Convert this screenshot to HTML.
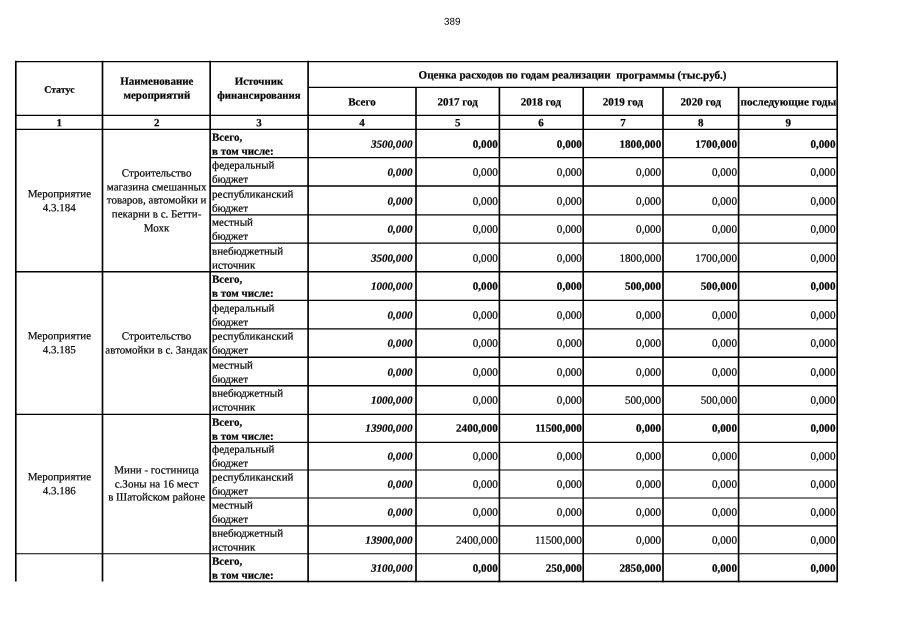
<!DOCTYPE html>
<html><head><meta charset="utf-8"><title>389</title>
<style>
html,body{margin:0;padding:0;background:#fff;}
body{width:905px;height:640px;position:relative;overflow:hidden;font-family:"Liberation Serif",serif;font-size:11px;line-height:13.7px;color:#000;-webkit-text-stroke:0.2px #000;}
svg{position:absolute;left:0;top:0;}
svg line{stroke:#000;}
.c{position:absolute;display:flex;align-items:center;box-sizing:border-box;white-space:nowrap;}
.c span{display:block;width:100%;}
.r.q{padding-right:1.6px;font-size:11.15px;}
.r.i{font-size:11.1px;}
.m{text-align:center;}
.l{text-align:left;padding-left:2.2px;}
.r{text-align:right;padding-right:3.4px;}
.b{font-weight:bold;}
.i{font-style:italic;}
.layer{position:absolute;left:0;top:0;width:905px;height:640px;will-change:transform;}
.pg{position:absolute;left:443.9px;top:15px;font-family:"Liberation Sans",sans-serif;font-size:9.9px;line-height:12px;transform:translateY(0.8px) rotate(0.03deg);-webkit-text-stroke:0;}
</style></head><body>
<div class="layer"><div class="pg">389</div>
<svg width="905" height="640" viewBox="0 0 905 640">
<line x1="15.80" y1="60.78" x2="15.80" y2="581.50" stroke-width="1.65"/>
<line x1="102.50" y1="60.78" x2="102.50" y2="581.50" stroke-width="1.65"/>
<line x1="210.15" y1="60.78" x2="210.15" y2="582.35" stroke-width="1.65"/>
<line x1="308.10" y1="60.78" x2="308.10" y2="582.35" stroke-width="1.65"/>
<line x1="416.00" y1="87.30" x2="416.00" y2="582.17" stroke-width="1.65"/>
<line x1="499.40" y1="87.30" x2="499.40" y2="582.17" stroke-width="1.65"/>
<line x1="583.20" y1="87.30" x2="583.20" y2="582.17" stroke-width="1.65"/>
<line x1="663.00" y1="87.30" x2="663.00" y2="582.17" stroke-width="1.65"/>
<line x1="738.60" y1="87.30" x2="738.60" y2="582.17" stroke-width="1.65"/>
<line x1="837.20" y1="60.78" x2="837.20" y2="582.35" stroke-width="1.65"/>
<line x1="15.00" y1="61.55" x2="838.00" y2="61.55" stroke-width="1.25"/>
<line x1="308.10" y1="87.30" x2="837.20" y2="87.30" stroke-width="1.35"/>
<line x1="15.80" y1="115.33" x2="837.20" y2="115.33" stroke-width="1.35"/>
<line x1="15.80" y1="129.33" x2="837.20" y2="129.33" stroke-width="1.35"/>
<line x1="210.15" y1="157.60" x2="837.20" y2="157.60" stroke-width="1.2"/>
<line x1="210.15" y1="186.00" x2="837.20" y2="186.00" stroke-width="1.4"/>
<line x1="210.15" y1="214.95" x2="837.20" y2="214.95" stroke-width="1.3"/>
<line x1="210.15" y1="243.10" x2="837.20" y2="243.10" stroke-width="1.2"/>
<line x1="15.80" y1="271.70" x2="837.20" y2="271.70" stroke-width="1.35"/>
<line x1="210.15" y1="300.40" x2="837.20" y2="300.40" stroke-width="1.15"/>
<line x1="210.15" y1="328.90" x2="837.20" y2="328.90" stroke-width="1.25"/>
<line x1="210.15" y1="357.25" x2="837.20" y2="357.25" stroke-width="1.3"/>
<line x1="210.15" y1="385.75" x2="837.20" y2="385.75" stroke-width="1.45"/>
<line x1="15.80" y1="414.30" x2="837.20" y2="414.30" stroke-width="1.15"/>
<line x1="210.15" y1="442.30" x2="837.20" y2="442.30" stroke-width="1.3"/>
<line x1="210.15" y1="470.00" x2="837.20" y2="470.00" stroke-width="1.1"/>
<line x1="210.15" y1="498.00" x2="837.20" y2="498.00" stroke-width="1.1"/>
<line x1="210.15" y1="525.90" x2="837.20" y2="525.90" stroke-width="1.1"/>
<line x1="15.80" y1="553.80" x2="837.20" y2="553.80" stroke-width="1.05"/>
<line x1="209.47" y1="581.50" x2="838.00" y2="581.50" stroke-width="1.7"/>
</svg>
<div class="c b m" style="left:15.80px;top:61.45px;width:86.70px;height:53.88px"><span style="transform:translate(0.00px,0.80px) rotate(0.03deg);font-size:9.9px;">Статус</span></div>
<div class="c b m" style="left:102.50px;top:61.45px;width:107.65px;height:53.88px"><span style="transform:translate(0.00px,-0.20px) rotate(0.03deg);">Наименование<br>мероприятий</span></div>
<div class="c b m" style="left:210.15px;top:61.45px;width:97.95px;height:53.88px"><span style="transform:translate(0.00px,-0.20px) rotate(0.03deg);font-size:10.85px;">Источник<br>финансирования</span></div>
<div class="c b m" style="left:308.10px;top:61.45px;width:529.10px;height:25.85px"><span style="transform:translate(0.00px,0.60px) rotate(0.03deg);font-size:11.1px;">Оценка расходов по годам реализации&nbsp; программы (тыс.руб.)</span></div>
<div class="c b m" style="left:308.10px;top:87.30px;width:107.90px;height:28.03px"><span style="transform:translate(0.00px,1.45px) rotate(0.03deg);font-size:11.05px;">Всего</span></div>
<div class="c b m" style="left:416.00px;top:87.30px;width:83.40px;height:28.03px"><span style="transform:translate(0.00px,1.45px) rotate(0.03deg);font-size:11.05px;">2017 год</span></div>
<div class="c b m" style="left:499.40px;top:87.30px;width:83.80px;height:28.03px"><span style="transform:translate(0.00px,1.45px) rotate(0.03deg);font-size:11.05px;">2018 год</span></div>
<div class="c b m" style="left:583.20px;top:87.30px;width:79.80px;height:28.03px"><span style="transform:translate(0.00px,1.45px) rotate(0.03deg);font-size:11.05px;">2019 год</span></div>
<div class="c b m" style="left:663.00px;top:87.30px;width:75.60px;height:28.03px"><span style="transform:translate(0.00px,1.45px) rotate(0.03deg);font-size:11.05px;">2020 год</span></div>
<div class="c b m" style="left:738.60px;top:87.30px;width:98.60px;height:28.03px"><span style="transform:translate(0.00px,1.45px) rotate(0.03deg);font-size:11.15px;">последующие годы</span></div>
<div class="c b m n" style="left:15.80px;top:115.33px;width:86.70px;height:14.00px"><span style="transform:translate(0.00px,1.35px) rotate(0.03deg);">1</span></div>
<div class="c b m n" style="left:102.50px;top:115.33px;width:107.65px;height:14.00px"><span style="transform:translate(0.00px,1.35px) rotate(0.03deg);">2</span></div>
<div class="c b m n" style="left:210.15px;top:115.33px;width:97.95px;height:14.00px"><span style="transform:translate(0.00px,1.35px) rotate(0.03deg);">3</span></div>
<div class="c b m n" style="left:308.10px;top:115.33px;width:107.90px;height:14.00px"><span style="transform:translate(0.00px,1.35px) rotate(0.03deg);">4</span></div>
<div class="c b m n" style="left:416.00px;top:115.33px;width:83.40px;height:14.00px"><span style="transform:translate(0.00px,1.35px) rotate(0.03deg);">5</span></div>
<div class="c b m n" style="left:499.40px;top:115.33px;width:83.80px;height:14.00px"><span style="transform:translate(0.00px,1.35px) rotate(0.03deg);">6</span></div>
<div class="c b m n" style="left:583.20px;top:115.33px;width:79.80px;height:14.00px"><span style="transform:translate(0.00px,1.35px) rotate(0.03deg);">7</span></div>
<div class="c b m n" style="left:663.00px;top:115.33px;width:75.60px;height:14.00px"><span style="transform:translate(0.00px,1.35px) rotate(0.03deg);">8</span></div>
<div class="c b m n" style="left:738.60px;top:115.33px;width:98.60px;height:14.00px"><span style="transform:translate(0.00px,1.35px) rotate(0.03deg);">9</span></div>
<div class="c m" style="left:15.80px;top:129.33px;width:86.70px;height:142.37px"><span style="transform:translate(0.00px,0.30px) rotate(0.03deg);">Мероприятие<br>4.3.184</span></div>
<div class="c m" style="left:102.50px;top:129.33px;width:107.65px;height:142.37px"><span style="transform:translate(-0.20px,0.50px) rotate(0.03deg);">Строительство<br>магазина смешанных<br>товаров, автомойки и<br>пекарни в с. Бетти-<br>Мохк</span></div>
<div class="c l b" style="left:210.15px;top:129.33px;width:97.95px;height:28.27px"><span style="transform:translate(0.00px,0.80px) rotate(0.03deg);">Всего,<br>в том числе:</span></div>
<div class="c r b i" style="left:308.10px;top:129.33px;width:107.90px;height:28.27px"><span style="transform:translate(0.00px,0.80px) rotate(0.03deg);">3500,000</span></div>
<div class="c r b q" style="left:416.00px;top:129.33px;width:83.40px;height:28.27px"><span style="transform:translate(0.00px,0.80px) rotate(0.03deg);">0,000</span></div>
<div class="c r b q" style="left:499.40px;top:129.33px;width:83.80px;height:28.27px"><span style="transform:translate(0.70px,0.80px) rotate(0.03deg);">0,000</span></div>
<div class="c r b q" style="left:583.20px;top:129.33px;width:79.80px;height:28.27px"><span style="transform:translate(0.00px,0.80px) rotate(0.03deg);">1800,000</span></div>
<div class="c r b q" style="left:663.00px;top:129.33px;width:75.60px;height:28.27px"><span style="transform:translate(0.00px,0.80px) rotate(0.03deg);">1700,000</span></div>
<div class="c r b q" style="left:738.60px;top:129.33px;width:98.60px;height:28.27px"><span style="transform:translate(-0.50px,0.80px) rotate(0.03deg);">0,000</span></div>
<div class="c l" style="left:210.15px;top:157.60px;width:97.95px;height:28.40px"><span style="transform:translate(0.00px,0.80px) rotate(0.03deg);">федеральный<br>бюджет</span></div>
<div class="c r b i" style="left:308.10px;top:157.60px;width:107.90px;height:28.40px"><span style="transform:translate(0.00px,0.80px) rotate(0.03deg);">0,000</span></div>
<div class="c r q" style="left:416.00px;top:157.60px;width:83.40px;height:28.40px"><span style="transform:translate(0.00px,0.80px) rotate(0.03deg);">0,000</span></div>
<div class="c r q" style="left:499.40px;top:157.60px;width:83.80px;height:28.40px"><span style="transform:translate(0.70px,0.80px) rotate(0.03deg);">0,000</span></div>
<div class="c r q" style="left:583.20px;top:157.60px;width:79.80px;height:28.40px"><span style="transform:translate(0.00px,0.80px) rotate(0.03deg);">0,000</span></div>
<div class="c r q" style="left:663.00px;top:157.60px;width:75.60px;height:28.40px"><span style="transform:translate(0.00px,0.80px) rotate(0.03deg);">0,000</span></div>
<div class="c r q" style="left:738.60px;top:157.60px;width:98.60px;height:28.40px"><span style="transform:translate(-0.50px,0.80px) rotate(0.03deg);">0,000</span></div>
<div class="c l" style="left:210.15px;top:186.00px;width:97.95px;height:28.95px"><span style="transform:translate(0.00px,0.80px) rotate(0.03deg);">республиканский<br>бюджет</span></div>
<div class="c r b i" style="left:308.10px;top:186.00px;width:107.90px;height:28.95px"><span style="transform:translate(0.00px,0.80px) rotate(0.03deg);">0,000</span></div>
<div class="c r q" style="left:416.00px;top:186.00px;width:83.40px;height:28.95px"><span style="transform:translate(0.00px,0.80px) rotate(0.03deg);">0,000</span></div>
<div class="c r q" style="left:499.40px;top:186.00px;width:83.80px;height:28.95px"><span style="transform:translate(0.70px,0.80px) rotate(0.03deg);">0,000</span></div>
<div class="c r q" style="left:583.20px;top:186.00px;width:79.80px;height:28.95px"><span style="transform:translate(0.00px,0.80px) rotate(0.03deg);">0,000</span></div>
<div class="c r q" style="left:663.00px;top:186.00px;width:75.60px;height:28.95px"><span style="transform:translate(0.00px,0.80px) rotate(0.03deg);">0,000</span></div>
<div class="c r q" style="left:738.60px;top:186.00px;width:98.60px;height:28.95px"><span style="transform:translate(-0.50px,0.80px) rotate(0.03deg);">0,000</span></div>
<div class="c l" style="left:210.15px;top:214.95px;width:97.95px;height:28.15px"><span style="transform:translate(0.00px,0.80px) rotate(0.03deg);">местный<br>бюджет</span></div>
<div class="c r b i" style="left:308.10px;top:214.95px;width:107.90px;height:28.15px"><span style="transform:translate(0.00px,0.80px) rotate(0.03deg);">0,000</span></div>
<div class="c r q" style="left:416.00px;top:214.95px;width:83.40px;height:28.15px"><span style="transform:translate(0.00px,0.80px) rotate(0.03deg);">0,000</span></div>
<div class="c r q" style="left:499.40px;top:214.95px;width:83.80px;height:28.15px"><span style="transform:translate(0.70px,0.80px) rotate(0.03deg);">0,000</span></div>
<div class="c r q" style="left:583.20px;top:214.95px;width:79.80px;height:28.15px"><span style="transform:translate(0.00px,0.80px) rotate(0.03deg);">0,000</span></div>
<div class="c r q" style="left:663.00px;top:214.95px;width:75.60px;height:28.15px"><span style="transform:translate(0.00px,0.80px) rotate(0.03deg);">0,000</span></div>
<div class="c r q" style="left:738.60px;top:214.95px;width:98.60px;height:28.15px"><span style="transform:translate(-0.50px,0.80px) rotate(0.03deg);">0,000</span></div>
<div class="c l" style="left:210.15px;top:243.10px;width:97.95px;height:28.60px"><span style="transform:translate(0.00px,0.80px) rotate(0.03deg);">внебюджетный<br>источник</span></div>
<div class="c r b i" style="left:308.10px;top:243.10px;width:107.90px;height:28.60px"><span style="transform:translate(0.00px,0.80px) rotate(0.03deg);">3500,000</span></div>
<div class="c r q" style="left:416.00px;top:243.10px;width:83.40px;height:28.60px"><span style="transform:translate(0.00px,0.80px) rotate(0.03deg);">0,000</span></div>
<div class="c r q" style="left:499.40px;top:243.10px;width:83.80px;height:28.60px"><span style="transform:translate(0.70px,0.80px) rotate(0.03deg);">0,000</span></div>
<div class="c r q" style="left:583.20px;top:243.10px;width:79.80px;height:28.60px"><span style="transform:translate(0.00px,0.80px) rotate(0.03deg);">1800,000</span></div>
<div class="c r q" style="left:663.00px;top:243.10px;width:75.60px;height:28.60px"><span style="transform:translate(0.00px,0.80px) rotate(0.03deg);">1700,000</span></div>
<div class="c r q" style="left:738.60px;top:243.10px;width:98.60px;height:28.60px"><span style="transform:translate(-0.50px,0.80px) rotate(0.03deg);">0,000</span></div>
<div class="c m" style="left:15.80px;top:271.70px;width:86.70px;height:142.60px"><span style="transform:translate(0.00px,0.30px) rotate(0.03deg);">Мероприятие<br>4.3.185</span></div>
<div class="c m" style="left:102.50px;top:271.70px;width:107.65px;height:142.60px"><span style="transform:translate(-0.20px,0.50px) rotate(0.03deg);">Строительство<br>автомойки в с. Зандак</span></div>
<div class="c l b" style="left:210.15px;top:271.70px;width:97.95px;height:28.70px"><span style="transform:translate(0.00px,0.80px) rotate(0.03deg);">Всего,<br>в том числе:</span></div>
<div class="c r b i" style="left:308.10px;top:271.70px;width:107.90px;height:28.70px"><span style="transform:translate(0.00px,0.80px) rotate(0.03deg);">1000,000</span></div>
<div class="c r b q" style="left:416.00px;top:271.70px;width:83.40px;height:28.70px"><span style="transform:translate(0.00px,0.80px) rotate(0.03deg);">0,000</span></div>
<div class="c r b q" style="left:499.40px;top:271.70px;width:83.80px;height:28.70px"><span style="transform:translate(0.70px,0.80px) rotate(0.03deg);">0,000</span></div>
<div class="c r b q" style="left:583.20px;top:271.70px;width:79.80px;height:28.70px"><span style="transform:translate(0.00px,0.80px) rotate(0.03deg);">500,000</span></div>
<div class="c r b q" style="left:663.00px;top:271.70px;width:75.60px;height:28.70px"><span style="transform:translate(0.00px,0.80px) rotate(0.03deg);">500,000</span></div>
<div class="c r b q" style="left:738.60px;top:271.70px;width:98.60px;height:28.70px"><span style="transform:translate(-0.50px,0.80px) rotate(0.03deg);">0,000</span></div>
<div class="c l" style="left:210.15px;top:300.40px;width:97.95px;height:28.50px"><span style="transform:translate(0.00px,0.80px) rotate(0.03deg);">федеральный<br>бюджет</span></div>
<div class="c r b i" style="left:308.10px;top:300.40px;width:107.90px;height:28.50px"><span style="transform:translate(0.00px,0.80px) rotate(0.03deg);">0,000</span></div>
<div class="c r q" style="left:416.00px;top:300.40px;width:83.40px;height:28.50px"><span style="transform:translate(0.00px,0.80px) rotate(0.03deg);">0,000</span></div>
<div class="c r q" style="left:499.40px;top:300.40px;width:83.80px;height:28.50px"><span style="transform:translate(0.70px,0.80px) rotate(0.03deg);">0,000</span></div>
<div class="c r q" style="left:583.20px;top:300.40px;width:79.80px;height:28.50px"><span style="transform:translate(0.00px,0.80px) rotate(0.03deg);">0,000</span></div>
<div class="c r q" style="left:663.00px;top:300.40px;width:75.60px;height:28.50px"><span style="transform:translate(0.00px,0.80px) rotate(0.03deg);">0,000</span></div>
<div class="c r q" style="left:738.60px;top:300.40px;width:98.60px;height:28.50px"><span style="transform:translate(-0.50px,0.80px) rotate(0.03deg);">0,000</span></div>
<div class="c l" style="left:210.15px;top:328.90px;width:97.95px;height:28.35px"><span style="transform:translate(0.00px,0.80px) rotate(0.03deg);">республиканский<br>бюджет</span></div>
<div class="c r b i" style="left:308.10px;top:328.90px;width:107.90px;height:28.35px"><span style="transform:translate(0.00px,0.80px) rotate(0.03deg);">0,000</span></div>
<div class="c r q" style="left:416.00px;top:328.90px;width:83.40px;height:28.35px"><span style="transform:translate(0.00px,0.80px) rotate(0.03deg);">0,000</span></div>
<div class="c r q" style="left:499.40px;top:328.90px;width:83.80px;height:28.35px"><span style="transform:translate(0.70px,0.80px) rotate(0.03deg);">0,000</span></div>
<div class="c r q" style="left:583.20px;top:328.90px;width:79.80px;height:28.35px"><span style="transform:translate(0.00px,0.80px) rotate(0.03deg);">0,000</span></div>
<div class="c r q" style="left:663.00px;top:328.90px;width:75.60px;height:28.35px"><span style="transform:translate(0.00px,0.80px) rotate(0.03deg);">0,000</span></div>
<div class="c r q" style="left:738.60px;top:328.90px;width:98.60px;height:28.35px"><span style="transform:translate(-0.50px,0.80px) rotate(0.03deg);">0,000</span></div>
<div class="c l" style="left:210.15px;top:357.25px;width:97.95px;height:28.50px"><span style="transform:translate(0.00px,0.80px) rotate(0.03deg);">местный<br>бюджет</span></div>
<div class="c r b i" style="left:308.10px;top:357.25px;width:107.90px;height:28.50px"><span style="transform:translate(0.00px,0.80px) rotate(0.03deg);">0,000</span></div>
<div class="c r q" style="left:416.00px;top:357.25px;width:83.40px;height:28.50px"><span style="transform:translate(0.00px,0.80px) rotate(0.03deg);">0,000</span></div>
<div class="c r q" style="left:499.40px;top:357.25px;width:83.80px;height:28.50px"><span style="transform:translate(0.70px,0.80px) rotate(0.03deg);">0,000</span></div>
<div class="c r q" style="left:583.20px;top:357.25px;width:79.80px;height:28.50px"><span style="transform:translate(0.00px,0.80px) rotate(0.03deg);">0,000</span></div>
<div class="c r q" style="left:663.00px;top:357.25px;width:75.60px;height:28.50px"><span style="transform:translate(0.00px,0.80px) rotate(0.03deg);">0,000</span></div>
<div class="c r q" style="left:738.60px;top:357.25px;width:98.60px;height:28.50px"><span style="transform:translate(-0.50px,0.80px) rotate(0.03deg);">0,000</span></div>
<div class="c l" style="left:210.15px;top:385.75px;width:97.95px;height:28.55px"><span style="transform:translate(0.00px,0.80px) rotate(0.03deg);">внебюджетный<br>источник</span></div>
<div class="c r b i" style="left:308.10px;top:385.75px;width:107.90px;height:28.55px"><span style="transform:translate(0.00px,0.80px) rotate(0.03deg);">1000,000</span></div>
<div class="c r q" style="left:416.00px;top:385.75px;width:83.40px;height:28.55px"><span style="transform:translate(0.00px,0.80px) rotate(0.03deg);">0,000</span></div>
<div class="c r q" style="left:499.40px;top:385.75px;width:83.80px;height:28.55px"><span style="transform:translate(0.70px,0.80px) rotate(0.03deg);">0,000</span></div>
<div class="c r q" style="left:583.20px;top:385.75px;width:79.80px;height:28.55px"><span style="transform:translate(0.00px,0.80px) rotate(0.03deg);">500,000</span></div>
<div class="c r q" style="left:663.00px;top:385.75px;width:75.60px;height:28.55px"><span style="transform:translate(0.00px,0.80px) rotate(0.03deg);">500,000</span></div>
<div class="c r q" style="left:738.60px;top:385.75px;width:98.60px;height:28.55px"><span style="transform:translate(-0.50px,0.80px) rotate(0.03deg);">0,000</span></div>
<div class="c m" style="left:15.80px;top:414.30px;width:86.70px;height:139.50px"><span style="transform:translate(0.00px,0.30px) rotate(0.03deg);">Мероприятие<br>4.3.186</span></div>
<div class="c m" style="left:102.50px;top:414.30px;width:107.65px;height:139.50px"><span style="transform:translate(-0.20px,0.50px) rotate(0.03deg);">Мини - гостиница<br>с.Зоны на 16 мест<br>в Шатойском районе</span></div>
<div class="c l b" style="left:210.15px;top:414.30px;width:97.95px;height:28.00px"><span style="transform:translate(0.00px,0.80px) rotate(0.03deg);">Всего,<br>в том числе:</span></div>
<div class="c r b i" style="left:308.10px;top:414.30px;width:107.90px;height:28.00px"><span style="transform:translate(0.00px,0.80px) rotate(0.03deg);">13900,000</span></div>
<div class="c r b q" style="left:416.00px;top:414.30px;width:83.40px;height:28.00px"><span style="transform:translate(0.00px,0.80px) rotate(0.03deg);">2400,000</span></div>
<div class="c r b q" style="left:499.40px;top:414.30px;width:83.80px;height:28.00px"><span style="transform:translate(0.70px,0.80px) rotate(0.03deg);">11500,000</span></div>
<div class="c r b q" style="left:583.20px;top:414.30px;width:79.80px;height:28.00px"><span style="transform:translate(0.00px,0.80px) rotate(0.03deg);">0,000</span></div>
<div class="c r b q" style="left:663.00px;top:414.30px;width:75.60px;height:28.00px"><span style="transform:translate(0.00px,0.80px) rotate(0.03deg);">0,000</span></div>
<div class="c r b q" style="left:738.60px;top:414.30px;width:98.60px;height:28.00px"><span style="transform:translate(-0.50px,0.80px) rotate(0.03deg);">0,000</span></div>
<div class="c l" style="left:210.15px;top:442.30px;width:97.95px;height:27.70px"><span style="transform:translate(0.00px,0.80px) rotate(0.03deg);">федеральный<br>бюджет</span></div>
<div class="c r b i" style="left:308.10px;top:442.30px;width:107.90px;height:27.70px"><span style="transform:translate(0.00px,0.80px) rotate(0.03deg);">0,000</span></div>
<div class="c r q" style="left:416.00px;top:442.30px;width:83.40px;height:27.70px"><span style="transform:translate(0.00px,0.80px) rotate(0.03deg);">0,000</span></div>
<div class="c r q" style="left:499.40px;top:442.30px;width:83.80px;height:27.70px"><span style="transform:translate(0.70px,0.80px) rotate(0.03deg);">0,000</span></div>
<div class="c r q" style="left:583.20px;top:442.30px;width:79.80px;height:27.70px"><span style="transform:translate(0.00px,0.80px) rotate(0.03deg);">0,000</span></div>
<div class="c r q" style="left:663.00px;top:442.30px;width:75.60px;height:27.70px"><span style="transform:translate(0.00px,0.80px) rotate(0.03deg);">0,000</span></div>
<div class="c r q" style="left:738.60px;top:442.30px;width:98.60px;height:27.70px"><span style="transform:translate(-0.50px,0.80px) rotate(0.03deg);">0,000</span></div>
<div class="c l" style="left:210.15px;top:470.00px;width:97.95px;height:28.00px"><span style="transform:translate(0.00px,0.80px) rotate(0.03deg);">республиканский<br>бюджет</span></div>
<div class="c r b i" style="left:308.10px;top:470.00px;width:107.90px;height:28.00px"><span style="transform:translate(0.00px,0.80px) rotate(0.03deg);">0,000</span></div>
<div class="c r q" style="left:416.00px;top:470.00px;width:83.40px;height:28.00px"><span style="transform:translate(0.00px,0.80px) rotate(0.03deg);">0,000</span></div>
<div class="c r q" style="left:499.40px;top:470.00px;width:83.80px;height:28.00px"><span style="transform:translate(0.70px,0.80px) rotate(0.03deg);">0,000</span></div>
<div class="c r q" style="left:583.20px;top:470.00px;width:79.80px;height:28.00px"><span style="transform:translate(0.00px,0.80px) rotate(0.03deg);">0,000</span></div>
<div class="c r q" style="left:663.00px;top:470.00px;width:75.60px;height:28.00px"><span style="transform:translate(0.00px,0.80px) rotate(0.03deg);">0,000</span></div>
<div class="c r q" style="left:738.60px;top:470.00px;width:98.60px;height:28.00px"><span style="transform:translate(-0.50px,0.80px) rotate(0.03deg);">0,000</span></div>
<div class="c l" style="left:210.15px;top:498.00px;width:97.95px;height:27.90px"><span style="transform:translate(0.00px,0.80px) rotate(0.03deg);">местный<br>бюджет</span></div>
<div class="c r b i" style="left:308.10px;top:498.00px;width:107.90px;height:27.90px"><span style="transform:translate(0.00px,0.80px) rotate(0.03deg);">0,000</span></div>
<div class="c r q" style="left:416.00px;top:498.00px;width:83.40px;height:27.90px"><span style="transform:translate(0.00px,0.80px) rotate(0.03deg);">0,000</span></div>
<div class="c r q" style="left:499.40px;top:498.00px;width:83.80px;height:27.90px"><span style="transform:translate(0.70px,0.80px) rotate(0.03deg);">0,000</span></div>
<div class="c r q" style="left:583.20px;top:498.00px;width:79.80px;height:27.90px"><span style="transform:translate(0.00px,0.80px) rotate(0.03deg);">0,000</span></div>
<div class="c r q" style="left:663.00px;top:498.00px;width:75.60px;height:27.90px"><span style="transform:translate(0.00px,0.80px) rotate(0.03deg);">0,000</span></div>
<div class="c r q" style="left:738.60px;top:498.00px;width:98.60px;height:27.90px"><span style="transform:translate(-0.50px,0.80px) rotate(0.03deg);">0,000</span></div>
<div class="c l" style="left:210.15px;top:525.90px;width:97.95px;height:27.90px"><span style="transform:translate(0.00px,0.80px) rotate(0.03deg);">внебюджетный<br>источник</span></div>
<div class="c r b i" style="left:308.10px;top:525.90px;width:107.90px;height:27.90px"><span style="transform:translate(0.00px,0.80px) rotate(0.03deg);">13900,000</span></div>
<div class="c r q" style="left:416.00px;top:525.90px;width:83.40px;height:27.90px"><span style="transform:translate(0.00px,0.80px) rotate(0.03deg);">2400,000</span></div>
<div class="c r q" style="left:499.40px;top:525.90px;width:83.80px;height:27.90px"><span style="transform:translate(0.70px,0.80px) rotate(0.03deg);">11500,000</span></div>
<div class="c r q" style="left:583.20px;top:525.90px;width:79.80px;height:27.90px"><span style="transform:translate(0.00px,0.80px) rotate(0.03deg);">0,000</span></div>
<div class="c r q" style="left:663.00px;top:525.90px;width:75.60px;height:27.90px"><span style="transform:translate(0.00px,0.80px) rotate(0.03deg);">0,000</span></div>
<div class="c r q" style="left:738.60px;top:525.90px;width:98.60px;height:27.90px"><span style="transform:translate(-0.50px,0.80px) rotate(0.03deg);">0,000</span></div>
<div class="c l b" style="left:210.15px;top:553.80px;width:97.95px;height:27.70px"><span style="transform:translate(0.00px,0.80px) rotate(0.03deg);">Всего,<br>в том числе:</span></div>
<div class="c r b i" style="left:308.10px;top:553.80px;width:107.90px;height:27.70px"><span style="transform:translate(0.00px,0.80px) rotate(0.03deg);">3100,000</span></div>
<div class="c r b q" style="left:416.00px;top:553.80px;width:83.40px;height:27.70px"><span style="transform:translate(0.00px,0.80px) rotate(0.03deg);">0,000</span></div>
<div class="c r b q" style="left:499.40px;top:553.80px;width:83.80px;height:27.70px"><span style="transform:translate(0.70px,0.80px) rotate(0.03deg);">250,000</span></div>
<div class="c r b q" style="left:583.20px;top:553.80px;width:79.80px;height:27.70px"><span style="transform:translate(0.00px,0.80px) rotate(0.03deg);">2850,000</span></div>
<div class="c r b q" style="left:663.00px;top:553.80px;width:75.60px;height:27.70px"><span style="transform:translate(0.00px,0.80px) rotate(0.03deg);">0,000</span></div>
<div class="c r b q" style="left:738.60px;top:553.80px;width:98.60px;height:27.70px"><span style="transform:translate(-0.50px,0.80px) rotate(0.03deg);">0,000</span></div>
</div>
</body></html>
